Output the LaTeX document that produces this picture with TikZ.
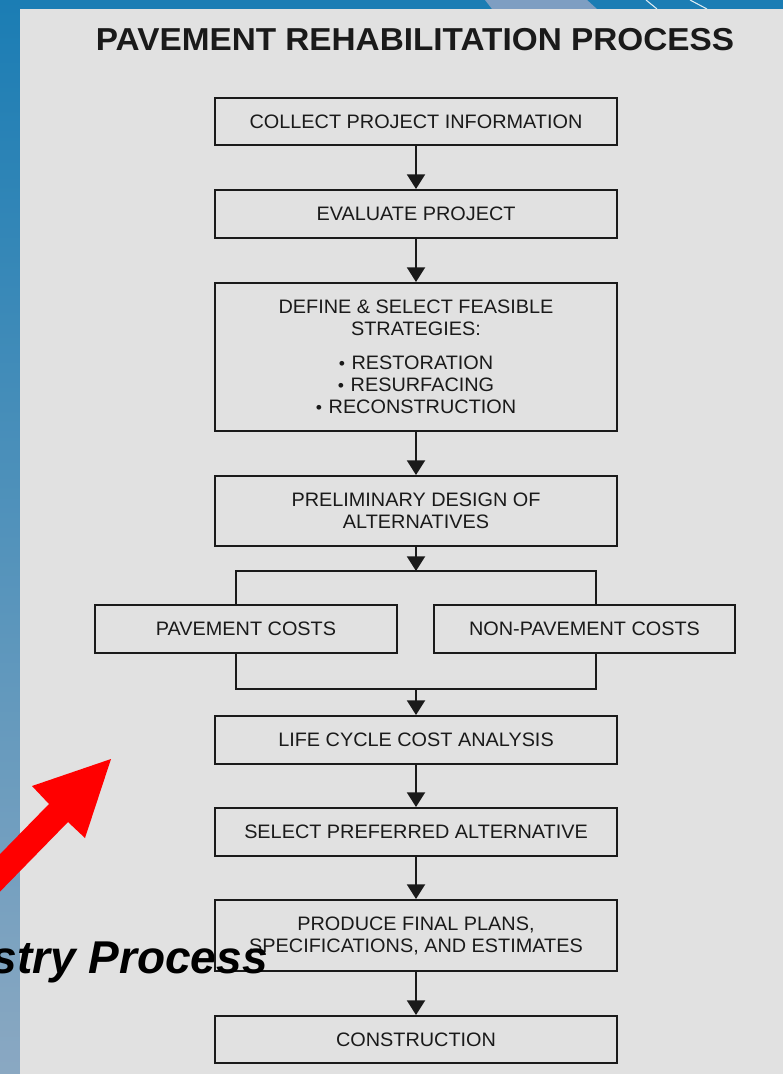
\documentclass[tikz,border=0pt]{standalone}
\usepackage{fontspec}
\setmainfont{Liberation Sans}
\newfontfamily\titlefont[FakeStretch=1.05]{Liberation Sans}
\newfontfamily\boxfont[FakeStretch=1.02]{Liberation Sans}
\usetikzlibrary{arrows.meta}

\definecolor{panel}{HTML}{E1E1E1}
\definecolor{bandblue}{HTML}{1B7DB4}
\definecolor{stripbot}{HTML}{8AA8C2}
\definecolor{stripe}{HTML}{7E9EC2}
\definecolor{ink}{HTML}{1A1A1A}
\definecolor{redarrow}{HTML}{FF0000}

\newcommand{\bul}{{\fontsize{13}{13}\selectfont •}\hspace{5pt}}

\tikzset{
  flowbox/.style={draw=ink, line width=1.5pt, text=ink, align=center,
    inner sep=0pt, minimum width=301.5pt,
    font=\boxfont\fontsize{14.6}{16.5}\selectfont},
  arr/.style={draw=ink, line width=1.5pt, -{Triangle[width=13.5pt,length=11pt]}},
  ln/.style={draw=ink, line width=1.5pt},
}

\begin{document}
\begin{tikzpicture}[x=0.75pt,y=-0.75pt]
\useasboundingbox (0,0) rectangle (783,1074);
\clip (0,0) rectangle (783,1074);

% slide background
\fill[bandblue] (0,0) rectangle (783,9);
\fill[stripe] (485,0) -- (587,0) -- (597,9) -- (492,9) -- cycle;
\draw[white!85!bandblue, line width=0.8pt] (646,0) -- (657,9);
\draw[white!85!bandblue, line width=0.8pt] (690,0) -- (707,9);
\shade[top color=bandblue, bottom color=stripbot] (0,0) rectangle (20,1074);
\fill[panel] (20,9) rectangle (783,1074);

% title
\node[font=\titlefont\bfseries\fontsize{23.8}{28}\selectfont, text=ink] (title) at (415,39.7) {PAVEMENT REHABILITATION PROCESS};

% boxes
\node[flowbox, minimum height=35.25pt] (b1) at (416,121.5) {COLLECT PROJECT INFORMATION};
\node[flowbox, minimum height=36pt] (b2) at (416,214) {EVALUATE PROJECT};
\node[flowbox, minimum height=111pt] (b3) at (416,357) {DEFINE \& SELECT FEASIBLE\\STRATEGIES:\\[9pt]\bul RESTORATION\\\bul RESURFACING\\\bul RECONSTRUCTION};
\node[flowbox, minimum height=52.5pt] (b4) at (416,511) {PRELIMINARY DESIGN OF\\ALTERNATIVES};
\node[flowbox, minimum height=36pt, minimum width=226.5pt] (pav) at (246,629) {PAVEMENT COSTS};
\node[flowbox, minimum height=36pt, minimum width=225.75pt] (np) at (584.5,629) {NON-PAVEMENT COSTS};
\node[flowbox, minimum height=36pt] (lcca) at (416,740) {LIFE CYCLE COST ANALYSIS};
\node[flowbox, minimum height=36pt] (sel) at (416,832) {SELECT PREFERRED ALTERNATIVE};
\node[flowbox, minimum height=53.25pt] (prod) at (416,935.5) {PRODUCE FINAL PLANS,\\SPECIFICATIONS, AND ESTIMATES};
\node[flowbox, minimum height=35.25pt] (cons) at (416,1039.5) {CONSTRUCTION};

% junction points
\coordinate (split) at (416,571);
\coordinate (sl) at (236,571);
\coordinate (sr) at (596,571);
\coordinate (join) at (416,689);
\coordinate (jl) at (236,689);
\coordinate (jr) at (596,689);

% connectors
\draw[arr] (b1) -- (b2);
\draw[arr] (b2) -- (b3);
\draw[arr] (b3) -- (b4);
\draw[arr] (b4) -- (split);
\draw[ln] (pav.north -| sl) -- (sl) -- (sr) -- (np.north -| sr);
\draw[ln] (pav.south -| jl) -- (jl) -- (jr) -- (np.south -| jr);
\draw[arr] (join) -- (lcca);
\draw[arr] (lcca) -- (sel);
\draw[arr] (sel) -- (prod);
\draw[arr] (prod) -- (cons);

% red pointer arrow
\fill[redarrow] (111,759) -- (32,786) -- (49,804) -- (-35,890) -- (-16,908) -- (68,822) -- (85,838) -- cycle;

% overlapping caption
\node[anchor=base east, inner sep=0pt, text=black, font=\bfseries\itshape\fontsize{34.5}{40}\selectfont] (caption) at (268,973) {stry Process};
\end{tikzpicture}
\end{document}
